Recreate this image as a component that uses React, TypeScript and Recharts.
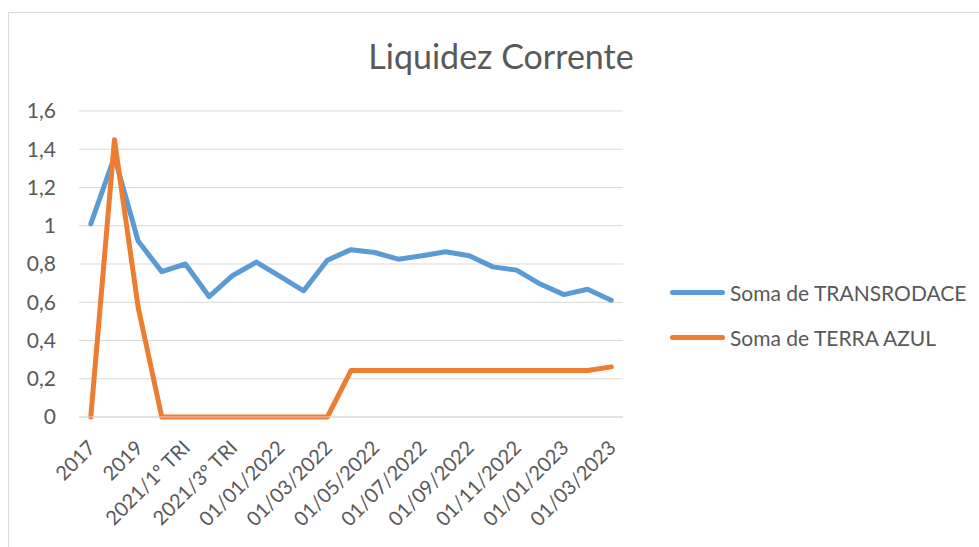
import React from "react";
import { LineChart, Line, XAxis, YAxis, CartesianGrid, Legend } from "recharts";

const categories = [
  "2017", "2018", "2019", "2020",
  "2021/1º TRI", "2021/2º TRI", "2021/3º TRI", "2021/4º TRI",
  "01/01/2022", "01/02/2022", "01/03/2022", "01/04/2022", "01/05/2022", "01/06/2022",
  "01/07/2022", "01/08/2022", "01/09/2022", "01/10/2022", "01/11/2022", "01/12/2022",
  "01/01/2023", "01/02/2023", "01/03/2023",
];
const transrodace = [
  1.01, 1.36, 0.92, 0.76, 0.8, 0.63, 0.74, 0.81, 0.735, 0.66, 0.82, 0.875,
  0.86, 0.825, 0.843, 0.864, 0.843, 0.785, 0.768, 0.695, 0.64, 0.668, 0.611,
];
const terraAzul = [
  0, 1.45, 0.575, 0, 0, 0, 0, 0, 0, 0, 0, 0.243,
  0.243, 0.243, 0.243, 0.243, 0.243, 0.243, 0.243, 0.243, 0.243, 0.243, 0.262,
];
const yTicks = [0, 0.2, 0.4, 0.6, 0.8, 1, 1.2, 1.4, 1.6];
const seriesNames = ["Soma de TRANSRODACE", "Soma de TERRA AZUL"];
const title = "Liquidez Corrente";

const data = categories.map((c, i) => ({
  name: c,
  a: transrodace[i],
  b: terraAzul[i],
}));

const FONT = "Lato, 'Open Sans', sans-serif";
const TEXT = "#595959";

const XTick = (props: any) => {
  const { x, y, payload } = props;
  return (
    <g transform={`translate(${x + 6},${y + 32})`}>
      <text
        transform="rotate(-45)"
        textAnchor="end"
        fill={TEXT}
        fontSize={20}
        fontFamily={FONT}
      >
        {payload.value}
      </text>
    </g>
  );
};

const LegendContent = (props: any) => {
  const payload = [...(props.payload || [])].sort(
    (p: any, q: any) => seriesNames.indexOf(p.value) - seriesNames.indexOf(q.value)
  );
  return (
    <div>
      {payload.map((p: any, i: number) => (
        <div
          key={i}
          style={{ display: "flex", alignItems: "center", height: 45 }}
        >
          <div
            style={{
              width: 55,
              height: 5,
              borderRadius: 3,
              background: p.color,
              marginRight: 5,
            }}
          />
          <span style={{ fontFamily: FONT, fontSize: 21, color: TEXT }}>
            {p.value}
          </span>
        </div>
      ))}
    </div>
  );
};

export default function App() {
  return (
    <div
      style={{
        position: "absolute",
        left: 0,
        top: 0,
        width: 979,
        height: 547,
        background: "#fff",
        overflow: "hidden",
      }}
    >
      <div
        style={{
          position: "absolute",
          left: 8,
          top: 12,
          width: 980,
          height: 540,
          borderLeft: "1px solid #D9D9D9",
          borderTop: "1px solid #D9D9D9",
        }}
      />
      <div
        style={{
          position: "absolute",
          left: 0,
          width: 1002,
          top: 36,
          textAlign: "center",
          fontFamily: FONT,
          fontSize: 34,
          lineHeight: "40px",
          color: TEXT,
        }}
      >
        {title}
      </div>
      <div style={{ position: "absolute", left: 0, top: 0 }}>
        <LineChart
          width={979}
          height={547}
          data={data}
          margin={{ top: 111, right: 356, bottom: 0, left: 0 }}
        >
          <CartesianGrid
            horizontal={true}
            vertical={false}
            stroke="#D9D9D9"
            strokeWidth={1}
          />
          <XAxis
            dataKey="name"
            interval={1}
            height={130}
            padding={{ left: 11.8, right: 11.8 }}
            axisLine={{ stroke: "#D9D9D9" }}
            tickLine={false}
            tickSize={0}
            tickMargin={0}
            tick={<XTick />}
          />
          <YAxis
            width={79}
            domain={[0, 1.6]}
            ticks={yTicks}
            axisLine={false}
            tickLine={false}
            tickSize={0}
            tickMargin={23}
            tick={{ fill: TEXT, fontSize: 21, fontFamily: FONT }}
            tickFormatter={(v: number) => String(v).replace(".", ",")}
          />
          <Line
            dataKey="a"
            name={seriesNames[0]}
            stroke="#5B9BD5"
            strokeWidth={5}
            strokeLinejoin="round"
            strokeLinecap="round"
            dot={false}
            isAnimationActive={false}
          />
          <Line
            dataKey="b"
            name={seriesNames[1]}
            stroke="#ED7D31"
            strokeWidth={5}
            strokeLinejoin="round"
            strokeLinecap="round"
            dot={false}
            isAnimationActive={false}
          />
          <Legend
            layout="horizontal"
            verticalAlign="middle"
            align="center"
            content={<LegendContent />}
            wrapperStyle={{ left: 670, top: 270, width: 309, height: 90 }}
          />
        </LineChart>
      </div>
    </div>
  );
}
